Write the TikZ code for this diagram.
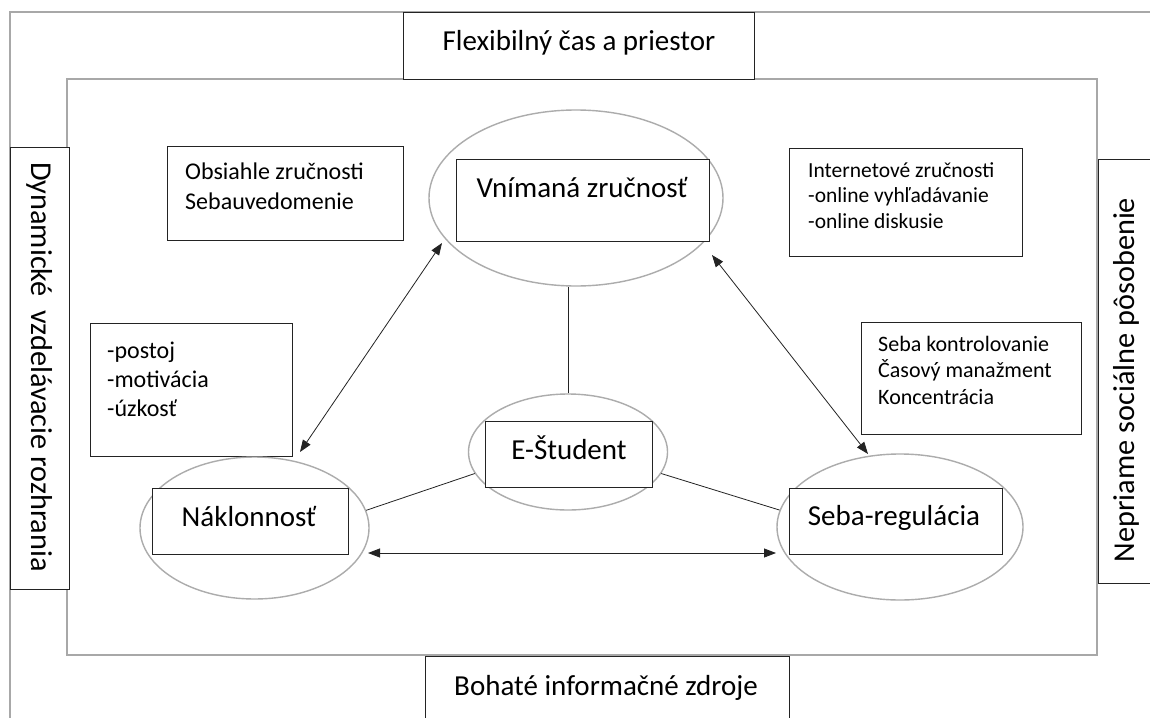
\documentclass[tikz,border=0pt]{standalone}
\usepackage{fontspec}
\setmainfont{Carlito}
\usetikzlibrary{calc,arrows.meta,shapes.geometric}
\definecolor{framegray}{RGB}{168,168,168}
\definecolor{ellgray}{RGB}{172,172,172}
\definecolor{boxline}{RGB}{35,35,35}
\newcommand{\bigtxt}{\fontsize{29}{34}\selectfont}
\newcommand{\sidetxt}{\fontsize{30.3}{36}\selectfont}
\newcommand{\smtxt}[2]{\fontsize{#1}{#2}\selectfont}
\begin{document}
\begin{tikzpicture}[x=1pt,y=-1pt,
  frame/.style={draw=framegray,line width=1.6pt},
  boxnode/.style={draw=boxline,line width=0.9pt,fill=white,inner sep=0pt,rectangle},
  ellnode/.style={draw=ellgray,line width=1.4pt,ellipse,inner sep=0pt},
  bigtext/.style={inner sep=0pt,font=\bigtxt,anchor=base},
  smalltext/.style={inner sep=0pt,anchor=base west},
  conn/.style={draw=boxline,line width=0.8pt},
  arr/.style={conn,{Triangle[length=12pt,width=9pt]}-{Triangle[length=12pt,width=9pt]}}
]
\clip (0,0) rectangle (1150,717);
\fill[white] (0,0) rectangle (1150,717);

% frames
\draw[frame] (10,12) rectangle (1180,750);
\draw[frame] (67,79) rectangle (1097,655);

% outer boxes
\node[boxnode,minimum width=351pt,minimum height=67pt] (flex) at (578.5,45.5) {};
\node[bigtext] (flext) at (579,51) {Flexibilný čas a priestor};
\node[boxnode,minimum width=364pt,minimum height=104pt] (boh) at (607,708) {};
\node[bigtext] (boht) at (606,695) {Bohaté informačné zdroje};
\node[boxnode,minimum width=59pt,minimum height=442pt] (dyn) at (39.5,368) {};
\node[inner sep=0pt,font=\sidetxt,rotate=-90] (dynt) at (40,367) {Dynamické\ \ vzdelávacie rozhrania};
\node[boxnode,minimum width=72pt,minimum height=424pt] (nep) at (1134,371) {};
\node[inner sep=0pt,font=\sidetxt,rotate=90] (nept) at (1126,380) {Nepriame sociálne pôsobenie};

% side boxes
\node[boxnode,minimum width=236pt,minimum height=94pt] (obs) at (285,193) {};
\node[smalltext] (obst) at (185,179) {\smtxt{24}{30}\begin{tabular}[t]{@{}l@{}}Obsiahle zručnosti\\Sebauvedomenie\end{tabular}};
\node[boxnode,minimum width=233pt,minimum height=108pt] (inet) at (905.5,202) {};
\node[smalltext] (inett) at (808,177) {\smtxt{21.5}{25.5}\begin{tabular}[t]{@{}l@{}}Internetové zručnosti\\-online vyhľadávanie\\-online diskusie\end{tabular}};
\node[boxnode,minimum width=202pt,minimum height=133pt] (post) at (191,389.5) {};
\node[smalltext] (postt) at (107,358) {\smtxt{24}{29}\begin{tabular}[t]{@{}l@{}}-postoj\\-motivácia\\-úzkosť\end{tabular}};
\node[boxnode,minimum width=220pt,minimum height=112pt] (sebk) at (971,378) {};
\node[smalltext] (sebkt) at (878,351) {\smtxt{22}{26.5}\begin{tabular}[t]{@{}l@{}}Seba kontrolovanie\\Časový manažment\\Koncentrácia\end{tabular}};

% ellipses
\node[ellnode,minimum width=294pt,minimum height=176pt] (vnim) at (576,198) {};
\node[ellnode,minimum width=199pt,minimum height=116pt] (estu) at (568,452) {};
\node[ellnode,minimum width=229pt,minimum height=142pt] (nakl) at (254.5,528) {};
\node[ellnode,minimum width=246pt,minimum height=146pt] (sebr) at (900,527) {};

% inner boxes
\node[boxnode,minimum width=253pt,minimum height=82pt] (vnimb) at (582.5,200) {};
\node[bigtext] (vnimt) at (582,197) {Vnímaná zručnosť};
\node[boxnode,minimum width=167pt,minimum height=66pt] (estub) at (568.5,454) {};
\node[bigtext] (estut) at (569,459) {E-Študent};
\node[boxnode,minimum width=196pt,minimum height=66pt] (naklb) at (250,521) {};
\node[bigtext] (naklt) at (249,526) {Náklonnosť};
\node[boxnode,minimum width=213pt,minimum height=66pt] (sebrb) at (895.5,521) {};
\node[bigtext] (sebrt) at (894,525) {Seba-regulácia};

% connectors
\draw[conn] (estu.north) -- (estu.north |- vnim.south);
\draw[conn] (estu.193) -- (nakl.9);
\draw[conn] (estu.347) -- (sebr.172);
\coordinate (hl) at (368,553);
\coordinate (hr) at (776,553);
\draw[arr] (hl) -- (hr);
\coordinate (dl1) at (442,243);
\coordinate (dl2) at (300,452);
\draw[arr] (dl1) -- (dl2);
\coordinate (dr1) at (712,255);
\coordinate (dr2) at (868,454);
\draw[arr] (dr1) -- (dr2);
\end{tikzpicture}
\end{document}
